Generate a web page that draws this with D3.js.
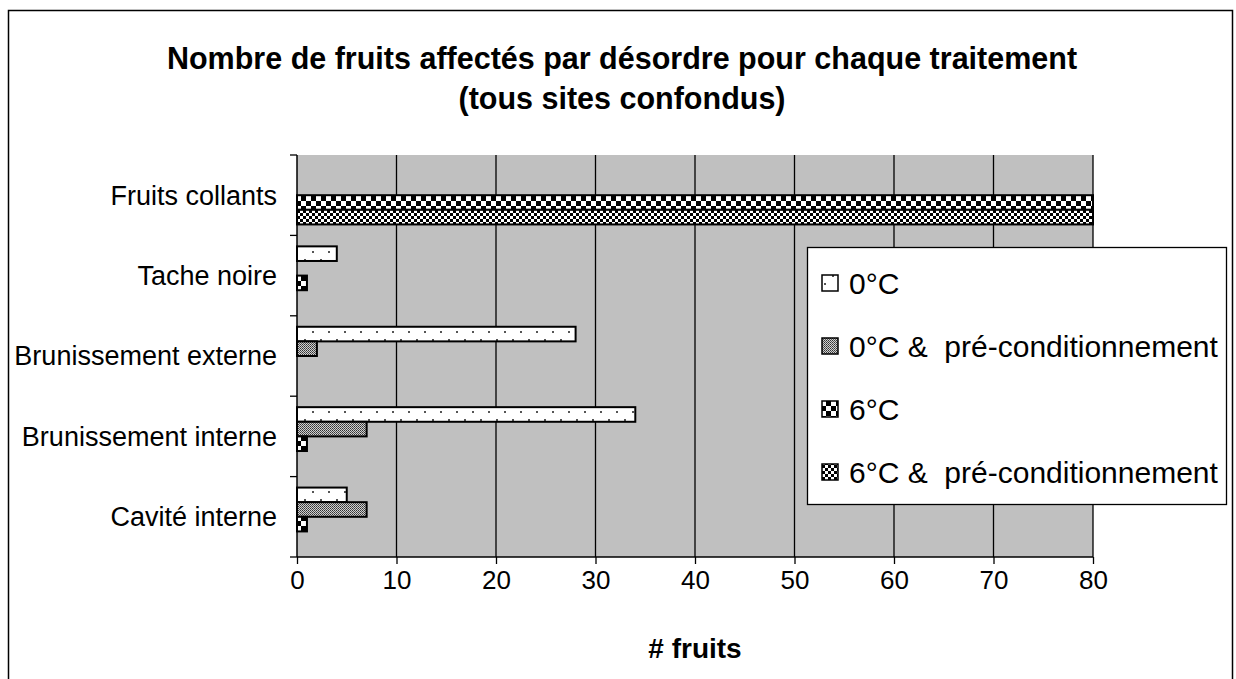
<!DOCTYPE html>
<html><head><meta charset="utf-8">
<script src="https://cdn.jsdelivr.net/npm/d3@7"></script>
<style>
html,body{margin:0;padding:0;background:#fff;}
svg{display:block;font-family:"Liberation Sans",Arial,sans-serif;}
</style></head>
<body>
<svg id="chart" width="1236" height="679"></svg>
<script>
const categories = ["Fruits collants","Tache noire","Brunissement externe","Brunissement interne","Cavité interne"];
const seriesNames = ["0°C","0°C &  pré-conditionnement","6°C","6°C &  pré-conditionnement"];
const s0 = [0,4,28,34,5];
const s0pre = [0,0,2,7,7];
const s6 = [80,1,0,1,1];
const s6pre = [80,0,0,0,0];
const xTicks = [0,10,20,30,40,50,60,70,80];
const titleLines = ["Nombre de fruits affectés par désordre pour chaque traitement","(tous sites confondus)"];
const xTitle = "# fruits";

const seriesValues = [s0,s0pre,s6,s6pre];
const patIds = ["p0","p0pre","p6","p6pre"];

const svg = d3.select("#chart");
const defs = svg.append("defs");

// Patterns
const p0 = defs.append("pattern").attr("id","p0").attr("patternUnits","userSpaceOnUse").attr("width",16).attr("height",16);
p0.append("rect").attr("width",16).attr("height",16).attr("fill","#fff");
p0.append("rect").attr("x",0).attr("y",3).attr("width",2).attr("height",2).attr("fill","#555");
p0.append("rect").attr("x",8).attr("y",11).attr("width",2).attr("height",2).attr("fill","#555");

const p0pre = defs.append("pattern").attr("id","p0pre").attr("patternUnits","userSpaceOnUse").attr("width",2).attr("height",2);
p0pre.append("rect").attr("width",2).attr("height",2).attr("fill","#d0d0d0");
p0pre.append("rect").attr("x",0).attr("y",0).attr("width",1).attr("height",1).attr("fill","#333");
p0pre.append("rect").attr("x",1).attr("y",1).attr("width",1).attr("height",1).attr("fill","#555");

const p6 = defs.append("pattern").attr("id","p6").attr("patternUnits","userSpaceOnUse").attr("width",10).attr("height",10).attr("y",1);
p6.append("rect").attr("width",10).attr("height",10).attr("fill","#000");
p6.append("rect").attr("x",1).attr("y",0).attr("width",5).attr("height",5).attr("fill","#fff");
p6.append("rect").attr("x",6).attr("y",5).attr("width",4).attr("height",5).attr("fill","#fff");
p6.append("rect").attr("x",0).attr("y",5).attr("width",1).attr("height",5).attr("fill","#fff");

const p6pre = defs.append("pattern").attr("id","p6pre").attr("patternUnits","userSpaceOnUse").attr("width",6).attr("height",6);
p6pre.append("rect").attr("width",6).attr("height",6).attr("fill","#fff");
p6pre.append("rect").attr("x",3).attr("y",0).attr("width",3).attr("height",3).attr("fill","#000");
p6pre.append("rect").attr("x",0).attr("y",3).attr("width",3).attr("height",3).attr("fill","#000");

// Outer border
svg.append("rect").attr("x",8.5).attr("y",10.5).attr("width",1224).attr("height",700)
  .attr("fill","none").attr("stroke","#000").attr("stroke-width",1.5);

// Title
svg.append("text").attr("x",620).attr("y",0).attr("text-anchor","middle")
  .attr("font-weight","bold").attr("font-size",30.5)
  .selectAll("tspan").data(titleLines).join("tspan")
  .attr("x",622).attr("y",(d,i)=>69+i*40).text(d=>d);

const plot = {left:297, right:1093, top:155, bottom:557};
const x = d3.scaleLinear().domain([0,80]).range([plot.left,plot.right]);
const y = d3.scaleBand().domain(categories).range([plot.top,plot.bottom]).paddingInner(0).paddingOuter(0);
const pad = y.bandwidth()*0.75/5.5;
const ySub = d3.scaleBand().domain(d3.range(4)).range([pad, y.bandwidth()-pad]);
// background
svg.append("rect").attr("x",plot.left).attr("y",plot.top).attr("width",plot.right-plot.left).attr("height",plot.bottom-plot.top).attr("fill","#c0c0c0");

// gridlines
svg.append("g").selectAll("line").data(xTicks.filter(d=>d>0)).join("line")
  .attr("x1",d=>x(d)).attr("x2",d=>x(d)).attr("y1",plot.top).attr("y2",plot.bottom)
  .attr("stroke","#000").attr("stroke-width",1.3);

// bars
const barData = [];
categories.forEach((c,ci)=>{
  seriesValues.forEach((vals,si)=>{
    barData.push({cat:c, s:si, v:vals[ci]});
  });
});
svg.append("g").selectAll("rect").data(barData.filter(d=>d.v>0)).join("rect")
  .attr("x",x(0))
  .attr("y",d=>y(d.cat)+ySub(d.s))
  .attr("width",d=>x(d.v)-x(0))
  .attr("height",ySub.bandwidth())
  .attr("fill",d=>`url(#${patIds[d.s]})`)
  .attr("stroke","#000").attr("stroke-width",2);

// x axis
const xAxis = d3.axisBottom(x).tickValues(xTicks).tickSize(7).tickPadding(9).tickFormat(d3.format("d"));
const gx = svg.append("g").attr("transform",`translate(0,${plot.bottom})`).call(xAxis);
gx.select(".domain").attr("stroke","#000").attr("stroke-width",1.5).attr("d",`M${plot.left},0H${plot.right}`);
gx.selectAll(".tick line").attr("stroke","#000").attr("stroke-width",1.3);
gx.selectAll(".tick text").attr("font-size",26).attr("font-family","Liberation Sans, Arial, sans-serif").attr("fill","#000").attr("dy","0.62em");

// y axis
const boundaries = d3.range(categories.length+1);
const yb = d3.scaleLinear().domain([0,categories.length]).range([plot.top,plot.bottom]);
svg.append("line").attr("x1",plot.left).attr("x2",plot.left).attr("y1",plot.top).attr("y2",plot.bottom).attr("stroke","#000").attr("stroke-width",1.5);
svg.append("g").selectAll("line").data(boundaries).join("line")
  .attr("x1",plot.left-7).attr("x2",plot.left).attr("y1",d=>yb(d)).attr("y2",d=>yb(d))
  .attr("stroke","#000").attr("stroke-width",1.3);
svg.append("g").selectAll("text").data(categories).join("text")
  .attr("x",277).attr("y",d=>y(d)+y.bandwidth()/2).attr("dy","0.35em")
  .attr("text-anchor","end").attr("font-size",27).text(d=>d);

// x title
svg.append("text").attr("x",(plot.left+plot.right)/2).attr("y",658).attr("text-anchor","middle")
  .attr("font-weight","bold").attr("font-size",28).text(xTitle);

// legend
const lg = svg.append("g");
lg.append("rect").attr("x",807.5).attr("y",247.5).attr("width",419).attr("height",257)
  .attr("fill","#fff").attr("stroke","#000").attr("stroke-width",1.3);
const ly = d3.scalePoint().domain(d3.range(4)).range([283,472]);
const items = lg.selectAll("g.item").data(seriesNames).join("g").attr("class","item");
items.append("rect").attr("x",822).attr("y",(d,i)=>ly(i)-8).attr("width",16).attr("height",16)
  .attr("fill",(d,i)=>`url(#${patIds[i]})`).attr("stroke","#000").attr("stroke-width",1.5);
items.append("text").attr("x",849).attr("y",(d,i)=>ly(i)).attr("dy","0.36em")
  .attr("font-size",30).attr("xml:space","preserve").style("white-space","pre").text(d=>d);
</script>
</body></html>
